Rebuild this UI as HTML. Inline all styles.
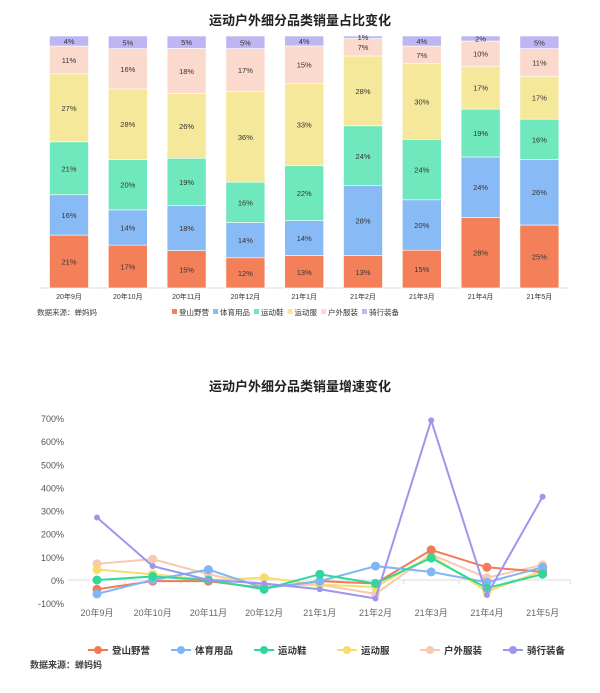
<!DOCTYPE html>
<html><head><meta charset="utf-8">
<style>
html,body{margin:0;padding:0;background:#fff;}
svg text{font-family:"Liberation Sans","Noto Sans CJK SC",sans-serif;}
</style></head>
<body>
<svg id="s" width="600" height="688" xmlns="http://www.w3.org/2000/svg"></svg>
<script>
const s=document.getElementById('s');let h='';
const T=(x,y,t,sz,fill,anc,w)=>`<text x="${x}" y="${y}" font-size="${sz}" fill="${fill}" text-anchor="${anc||'middle'}" font-weight="${w||'normal'}">${t}</text>`;
h+=T(300,25,'运动户外细分品类销量占比变化',13,'#222','middle','bold');
const months=['20年9月','20年10月','20年11月','20年12月','21年1月','21年2月','21年3月','21年4月','21年5月'];
const bc=['#f4805a','#88baf5','#6ee8bc','#f5e89a','#fbd9cc','#bdb6f2'];
const bd=[[21,16,21,27,11,4],[17,14,20,28,16,5],[15,18,19,26,18,5],[12,14,16,36,17,5],[13,14,22,33,15,4],[13,28,24,28,7,1],[15,20,24,30,7,4],[28,24,19,17,10,2],[25,26,16,17,11,5]];
const B=288,H=252;
h+=`<line x1="40" y1="${B}" x2="568" y2="${B}" stroke="#ddd"/>`;
bd.forEach((d,i)=>{const cx=69+i*58.8;const sum=d.reduce((a,b)=>a+b);let y=B;
 d.forEach((v,j)=>{const hh=v/sum*H;y-=hh;h+=`<rect x="${cx-19.5}" y="${y}" width="39" height="${hh}" fill="${bc[j]}" stroke="#fff" stroke-width="0.6"/>`;
 h+=T(cx,y+hh/2+3,v+'%',7.5,'#333');});
 h+=T(cx,299,months[i],7,'#333');});
h+=T(37,315,'数据来源：蝉妈妈',7.5,'#444','start');
const ln=['登山野营','体育用品','运动鞋','运动服','户外服装','骑行装备'];
let lx=172;ln.forEach((n,j)=>{h+=`<rect x="${lx}" y="309" width="5" height="5" fill="${bc[j]}"/>`;h+=T(lx+7,315,n,7.5,'#333','start');lx+=n.length*7.5+11;});
// line chart
h+=T(300,391,'运动户外细分品类销量增速变化',13,'#222','middle','bold');
const y0=580,k=0.2314;
for(let v=-100;v<=700;v+=100){const y=y0-v*k;h+=T(64,y+4,v+'%',9,'#555','end');}
h+=`<line x1="68" y1="${y0}" x2="570" y2="${y0}" stroke="#ddd"/>`;
const xs=i=>97+i*55.7;
months.forEach((m,i)=>{h+=`<line x1="${xs(i)+27.8}" y1="${y0}" x2="${xs(i)+27.8}" y2="${y0+4}" stroke="#ddd"/>`;h+=T(xs(i),616,m,9,'#666');});
const lc=['#f47a55','#7eb6f6','#2fd89a','#f5dd6a','#f8c9b2','#9b96ee'];
const ld=[[-40,-5,-5,-35,-5,-15,130,55,35],[-60,0,45,-35,-5,60,35,-10,55],[0,15,0,-40,25,-15,95,-35,25],[45,25,0,10,-20,-30,105,-50,40],[70,90,25,-25,-20,-60,110,10,65],[270,60,0,-15,-40,-80,690,-65,360]];
[4,3,0,1,2,5].forEach(j=>{const d=ld[j];const pts=d.map((v,i)=>xs(i)+','+(y0-v*k)).join(' ');
 h+=`<polyline points="${pts}" fill="none" stroke="${lc[j]}" stroke-width="2"/>`;
 d.forEach((v,i)=>h+=`<circle cx="${xs(i)}" cy="${y0-v*k}" r="${j==5?3:4.5}" fill="${lc[j]}"/>`);});
let px=88;ln.forEach((n,j)=>{h+=`<line x1="${px}" y1="650" x2="${px+20}" y2="650" stroke="${lc[j]}" stroke-width="2"/><circle cx="${px+10}" cy="650" r="4" fill="${lc[j]}"/>`;h+=T(px+24,654,n,9.5,'#333','start','bold');px+=83;});
h+=T(30,668,'数据来源：蝉妈妈',9,'#444','start','bold');
s.innerHTML=h;
</script>
</body></html>
